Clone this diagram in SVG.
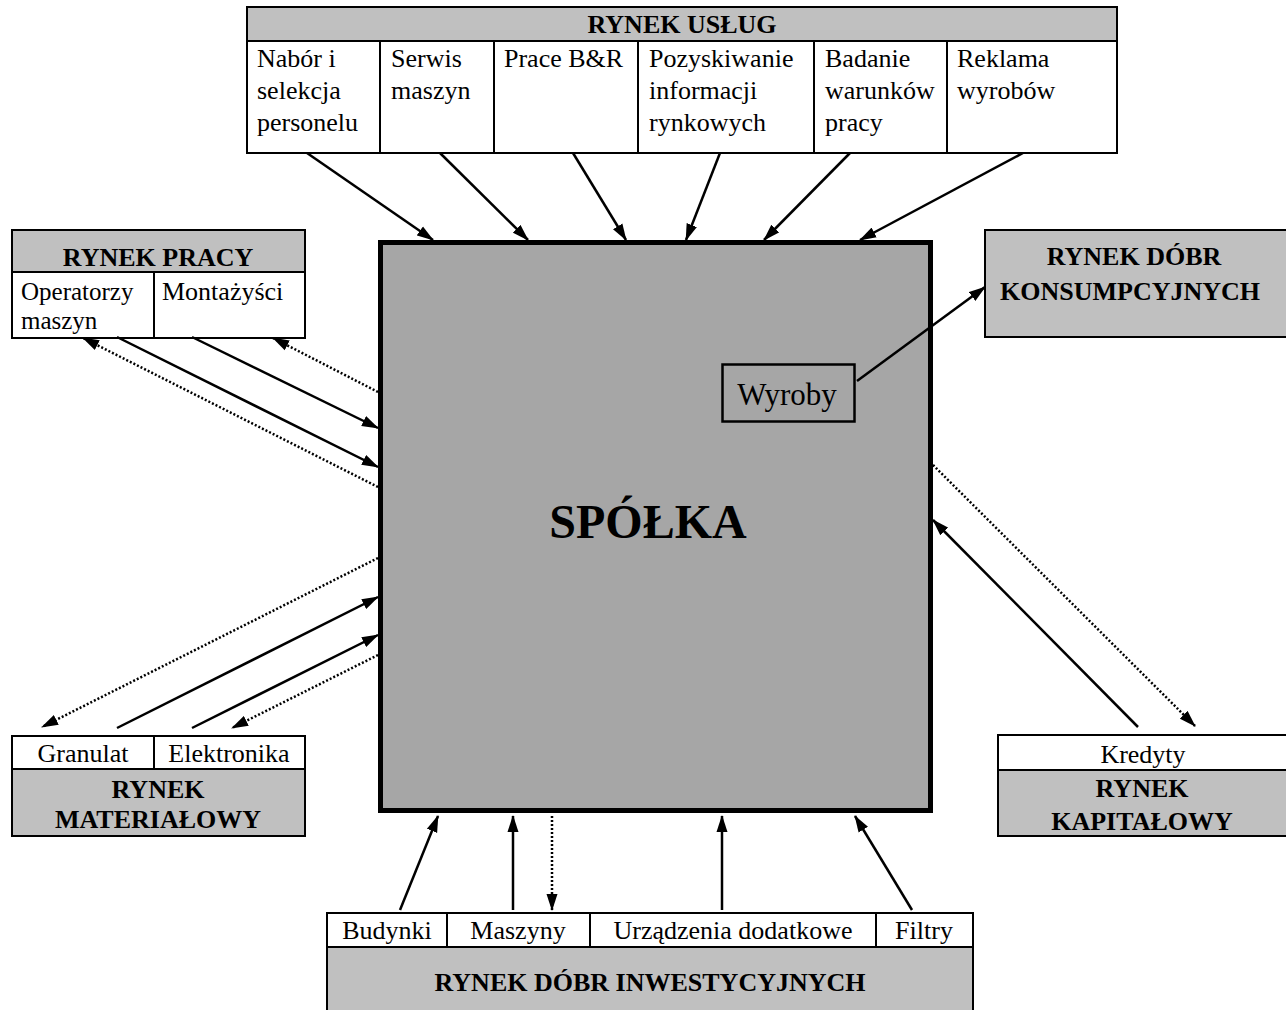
<svg xmlns="http://www.w3.org/2000/svg" width="1286" height="1010" viewBox="0 0 1286 1010">
<style>
text{font-family:"Liberation Serif","Times New Roman",serif;font-size:26px;fill:#000}
.b{font-weight:bold}
.c{text-anchor:middle}
.hdr{fill:#c0c0c0;stroke:#000;stroke-width:2}
.cell{fill:#fff;stroke:#000;stroke-width:2}
.ln{stroke:#000;stroke-width:2}
.s{stroke:#000;stroke-width:2.5;fill:none;marker-end:url(#ah)}
.d{stroke:#000;stroke-width:2.5;fill:none;stroke-dasharray:2 2;marker-end:url(#ah)}
</style>
<defs>
<marker id="ah" markerUnits="userSpaceOnUse" markerWidth="18" markerHeight="12" refX="16" refY="6" orient="auto">
<path d="M0,0.5 L17,6 L0,11.5 z" fill="#000"/>
</marker>
</defs>

<g id="rynek-uslug">
<rect class="hdr" x="247" y="7" width="870" height="34"/>
<rect class="cell" x="247" y="41" width="870" height="112"/>
<line class="ln" x1="380" y1="41" x2="380" y2="153"/>
<line class="ln" x1="494" y1="41" x2="494" y2="153"/>
<line class="ln" x1="638" y1="41" x2="638" y2="153"/>
<line class="ln" x1="814" y1="41" x2="814" y2="153"/>
<line class="ln" x1="947" y1="41" x2="947" y2="153"/>
<text class="b c" x="682" y="33">RYNEK USŁUG</text>
<text x="257" y="67"><tspan x="257">Nabór i</tspan><tspan x="257" y="99">selekcja</tspan><tspan x="257" y="131">personelu</tspan></text>
<text x="391" y="67"><tspan x="391">Serwis</tspan><tspan x="391" y="99">maszyn</tspan></text>
<text x="504" y="67">Prace B&amp;R</text>
<text x="649" y="67"><tspan x="649">Pozyskiwanie</tspan><tspan x="649" y="99">informacji</tspan><tspan x="649" y="131">rynkowych</tspan></text>
<text x="825" y="67"><tspan x="825">Badanie</tspan><tspan x="825" y="99">warunków</tspan><tspan x="825" y="131">pracy</tspan></text>
<text x="957" y="67"><tspan x="957">Reklama</tspan><tspan x="957" y="99">wyrobów</tspan></text>
</g>

<g id="rynek-pracy">
<rect class="hdr" x="12" y="230" width="293" height="42"/>
<rect class="cell" x="12" y="272" width="293" height="66"/>
<line class="ln" x1="154" y1="272" x2="154" y2="338"/>
<text class="b c" x="158" y="266">RYNEK PRACY</text>
<text x="21" y="300" style="font-size:25px"><tspan x="21">Operatorzy</tspan><tspan x="21" y="329">maszyn</tspan></text>
<text x="162" y="300">Montażyści</text>
</g>

<g id="rynek-materialowy">
<rect class="cell" x="12" y="736" width="293" height="33"/>
<rect class="hdr" x="12" y="769" width="293" height="67"/>
<line class="ln" x1="154" y1="736" x2="154" y2="769"/>
<text class="c" x="83" y="762">Granulat</text>
<text class="c" x="229" y="762">Elektronika</text>
<text class="b c" x="158" y="798">RYNEK</text>
<text class="b c" x="158" y="828">MATERIAŁOWY</text>
</g>

<g id="rynek-konsumpcyjny">
<rect class="hdr" x="985" y="230" width="302" height="107"/>
<text class="b c" x="1134" y="265">RYNEK DÓBR</text>
<text class="b c" x="1130" y="300">KONSUMPCYJNYCH</text>
</g>

<g id="rynek-kapitalowy">
<rect class="cell" x="998" y="735" width="289" height="35"/>
<rect class="hdr" x="998" y="770" width="289" height="66"/>
<text class="c" x="1143" y="763">Kredyty</text>
<text class="b c" x="1142" y="797">RYNEK</text>
<text class="b c" x="1142" y="830">KAPITAŁOWY</text>
</g>

<g id="rynek-inwestycyjny">
<rect class="cell" x="327" y="913" width="646" height="34"/>
<rect class="hdr" x="327" y="947" width="646" height="70"/>
<line class="ln" x1="447" y1="913" x2="447" y2="947"/>
<line class="ln" x1="590" y1="913" x2="590" y2="947"/>
<line class="ln" x1="876" y1="913" x2="876" y2="947"/>
<text class="c" x="387" y="939">Budynki</text>
<text class="c" x="518" y="939">Maszyny</text>
<text class="c" x="733" y="939">Urządzenia dodatkowe</text>
<text class="c" x="924" y="939">Filtry</text>
<text class="b c" x="650" y="991">RYNEK DÓBR INWESTYCYJNYCH</text>
</g>

<g id="spolka">
<rect x="380.5" y="242.5" width="550" height="568" fill="#a6a6a6" stroke="#000" stroke-width="5"/>
<text class="b c" x="648" y="538" style="font-size:48px">SPÓŁKA</text>
</g>

<g id="wyroby">
<rect x="722.5" y="364.5" width="132" height="57" fill="#a6a6a6" stroke="#000" stroke-width="2.5"/>
<text class="c" x="787" y="405" style="font-size:31px">Wyroby</text>
</g>

<g id="connectors">
<line class="s" x1="307" y1="153" x2="433" y2="240"/>
<line class="s" x1="440" y1="153" x2="528" y2="240"/>
<line class="s" x1="573" y1="153" x2="626" y2="240"/>
<line class="s" x1="720" y1="153" x2="686" y2="240"/>
<line class="s" x1="850" y1="153" x2="764" y2="240"/>
<line class="s" x1="1023" y1="153" x2="860" y2="240"/>

<line class="s" x1="192" y1="337" x2="378" y2="428"/>
<line class="s" x1="117" y1="337" x2="378" y2="467"/>
<line class="d" x1="378" y1="392" x2="273" y2="338"/>
<line class="d" x1="378" y1="487" x2="83" y2="338"/>

<line class="d" x1="378" y1="558" x2="42" y2="727"/>
<line class="s" x1="117" y1="728" x2="378" y2="597"/>
<line class="s" x1="192" y1="728" x2="378" y2="635"/>
<line class="d" x1="378" y1="655" x2="232" y2="728"/>

<line class="s" x1="857" y1="381" x2="985" y2="287"/>

<line class="d" x1="933" y1="465" x2="1195" y2="726"/>
<line class="s" x1="1138" y1="727" x2="933" y2="520"/>

<line class="s" x1="400" y1="910" x2="438" y2="816"/>
<line class="s" x1="513" y1="910" x2="513" y2="816"/>
<line class="d" x1="552" y1="816" x2="552" y2="910"/>
<line class="s" x1="722" y1="910" x2="722" y2="816"/>
<line class="s" x1="912" y1="910" x2="855" y2="816"/>
</g>
</svg>
